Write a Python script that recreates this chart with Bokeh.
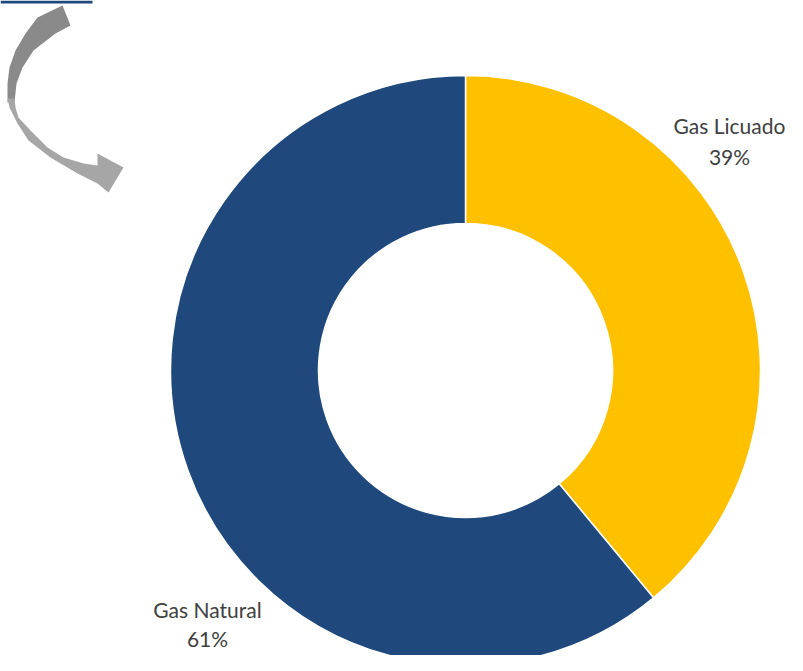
import numpy as np
from bokeh.plotting import figure
from bokeh.models import Range1d, ColumnDataSource
from bokeh.core.properties import value
from bokeh.embed import file_html
from bokeh.resources import INLINE

# ---- data ----
categories = ["Gas Licuado", "Gas Natural"]
shares = [39, 61]
colors = ["#FFC000", "#1F497D"]
pct_labels = ["39%", "61%"]

# ---- layout (reference pixel coords, y measured from top) ----
H = 671
W_FIG, H_FIG = 787, 655
cx, cy = 465, 370
r_out, r_in = 295, 147

p = figure(width=W_FIG, height=H_FIG, output_backend="svg", toolbar_location=None,
           x_range=Range1d(0, W_FIG), y_range=Range1d(H - H_FIG, H),
           min_border=0)
p.axis.visible = False
p.grid.visible = False
p.outline_line_color = None
p.background_fill_color = "white"

# donut
fr = np.array(shares, dtype=float) / sum(shares)
cum = np.concatenate([[0], np.cumsum(fr)])
end_a = np.pi / 2 - cum[:-1] * 2 * np.pi
start_a = np.pi / 2 - cum[1:] * 2 * np.pi
src = ColumnDataSource(dict(start=start_a, end=end_a, color=colors, cat=categories))
p.annular_wedge(x=cx, y=H - cy, inner_radius=r_in, outer_radius=r_out,
                start_angle="start", end_angle="end", direction="anticlock",
                fill_color="color", line_color="white", line_width=1.5, source=src)

# labels
lab_x = [729, 207]
lab_y1 = [125, 609]
lab_y2 = [156, 638]
p.text(x=lab_x, y=[H - v for v in lab_y1], text=categories,
       text_font=value("Lato"), text_font_size="21px", text_color="#404040",
       text_align="center", text_baseline="middle")
p.text(x=lab_x, y=[H - v for v in lab_y2], text=pct_labels,
       text_font=value("Lato"), text_font_size="21px", text_color="#404040",
       text_align="center", text_baseline="middle")

# decorative top bar
p.quad(left=0, right=92, top=H, bottom=H - 3, fill_color="#1F497D", line_color=None)

# decorative curved arrow (two tones)
upper_x = [62, 37, 25, 15, 9, 7, 7, 14, 16, 22, 33, 55, 70]
upper_y = [5, 17, 33, 50, 67, 83, 102, 102, 83, 67, 50, 33, 25]
p.patch(upper_x, [H - v for v in upper_y], fill_color="#8A8A8A", line_color=None)
lower_x = [7, 9, 17, 28, 50, 77, 97, 108, 123, 97, 97, 83, 63, 47, 30, 18, 15, 14]
lower_y = [98, 107, 123, 140, 157, 173, 183, 192, 167, 153, 165, 163, 157, 147, 130, 117, 107, 98]
p.patch(lower_x, [H - v for v in lower_y], fill_color="#A6A6A6", line_color=None)

open("out.html", "w").write(file_html(p, INLINE))
